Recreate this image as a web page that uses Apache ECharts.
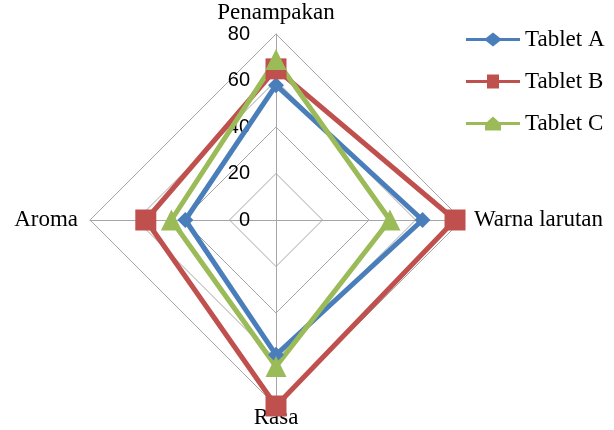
<!DOCTYPE html>
<html>
<head>
<meta charset="utf-8">
<script src="https://cdn.jsdelivr.net/npm/echarts@6/dist/echarts.min.js"></script>
<style>
  html, body { margin: 0; padding: 0; background: #fff; }
  #chart { width: 614px; height: 430px; }
</style>
</head>
<body>
<div id="chart"></div>
<script>
// Sensory attributes (radar spokes, counter-clockwise from top as ECharts lays them out)
const attributes = ['Penampakan', 'Aroma', 'Rasa', 'Warna larutan'];
const axisMax = 80;

// Scores per tablet, same order as attributes
const tabletA = [58, 39, 58, 63];
const tabletB = [65, 56, 80, 77];
const tabletC = [69, 45, 63, 49];

const seriesNames = ['Tablet A', 'Tablet B', 'Tablet C'];
const seriesValues = [tabletA, tabletB, tabletC];

const colors = ['#4A7EBB', '#C0504D', '#9BBB59'];
const symbols = ['diamond', 'rect', 'triangle'];
const symbolSizes = [16, 21, 21];

// Legend icons: a line with the series marker in its middle
const legendIcons = [
  'path://M0,5.5L20,5.5L27,0L34,5.5L54,5.5L54,8.5L34,8.5L27,14L20,8.5L0,8.5Z',
  'path://M0,5.5L21,5.5L21,0L33,0L33,5.5L54,5.5L54,8.5L33,8.5L33,14L21,14L21,8.5L0,8.5Z',
  'path://M0,5.5L21,5.5L27,0L33,5.5L54,5.5L54,8.5L35,8.5L35,14L19,14L19,8.5L0,8.5Z'
];

const serif = '"Liberation Serif", "Times New Roman", serif';

const chart = echarts.init(document.getElementById('chart'), null, { renderer: 'canvas' });

const indicator = attributes.map((name, i) => {
  const ind = { name: name, max: axisMax, min: 0 };
  if (i === 0) {
    ind.axisLabel = {
      show: true,
      color: '#000',
      fontSize: 20,
      fontFamily: '"Liberation Sans", Arial, sans-serif',
      margin: 26
    };
  }
  return ind;
});

chart.setOption({
  animation: false,
  backgroundColor: '#fff',
  legend: {
    orient: 'vertical',
    left: 461,
    top: 23,
    itemWidth: 54,
    itemHeight: 14,
    itemGap: 19,
    textStyle: { fontFamily: serif, fontSize: 23, color: '#000' },
    data: seriesNames.map((n, i) => ({ name: n, icon: legendIcons[i], itemStyle: { color: colors[i] } }))
  },
  radar: {
    center: [276, 220],
    radius: 186,
    startAngle: 90,
    shape: 'polygon',
    splitNumber: 4,
    indicator: indicator,
    nameGap: 0,
    axisName: {
      color: '#000',
      fontFamily: serif,
      fontSize: 23,
      // side names sit a little further out than the top and bottom ones
      formatter: function (name) {
        return (name === 'Aroma' || name === 'Warna larutan') ? '{side|' + name + '}' : name;
      },
      rich: {
        side: { fontFamily: serif, fontSize: 23, color: '#000', padding: [0, 12, 0, 12] }
      }
    },
    axisLine: { lineStyle: { color: '#A6A6A6', width: 1 } },
    splitLine: { lineStyle: { color: '#A6A6A6', width: 1 } },
    splitArea: { show: false },
    axisTick: { show: false },
    axisLabel: { show: false }
  },
  series: [{
    type: 'radar',
    data: seriesNames.map((n, i) => ({
      name: n,
      value: seriesValues[i],
      symbol: symbols[i],
      symbolSize: symbolSizes[i],
      lineStyle: { color: colors[i], width: 5 },
      itemStyle: { color: colors[i] }
    }))
  }]
});
</script>
</body>
</html>
